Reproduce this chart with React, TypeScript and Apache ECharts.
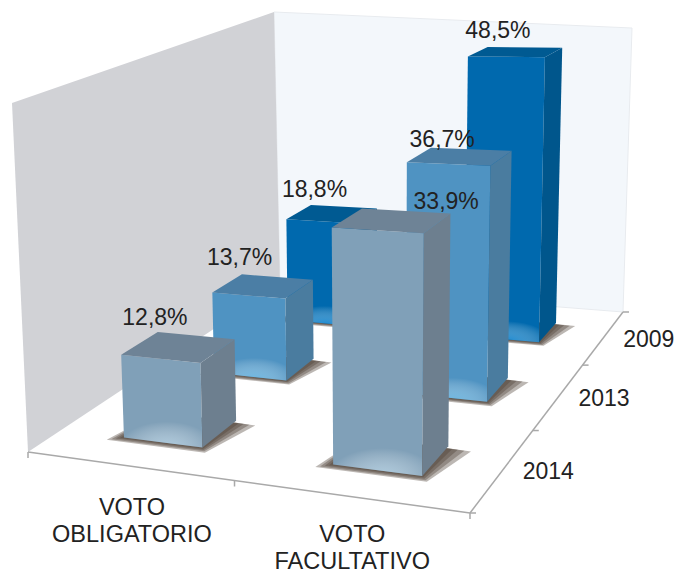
import React, { useEffect, useRef } from "react";
import * as echarts from "echarts";

// ---- data ----
const voteTypes = ["VOTO\nOBLIGATORIO", "VOTO\nFACULTATIVO"];
const years = ["2014", "2013", "2009"]; // front to back
const obligatorio = [12.8, 13.7, 18.8];
const facultativo = [33.9, 36.7, 48.5];

// ---- layout ----
const W = 674, H = 575;
const FONT = "Liberation Sans, Arial, sans-serif";
const FS = 23;
const floor = { fl: [28, 452], fr: [470, 513], br: [623, 312], bl: [280, 285] };
const wallTop = { fl: [12, 103], bl: [274, 12], br: [632, 28] };
const AXIS_MAX = 51.5;
const BAR_U = 0.195, BAR_V = 0.125, BAR_U_SHIFT = 0.008;
// Offsets of value labels from the middle of each bar's top: [column][row]
const labelShifts = [
  [[-23.5, -30], [-23.5, -29], [-17.5, -25]],
  [[54.5, -19], [-17.5, -18], [-17.5, -22]],
];
const typeLabelDrop = [55, 51];

const faceColors = [
  { front: "#80a0b8", glow: "rgba(190,220,238,0.7)", top: "#6e8396", side: "#6d7f8f" },
  { front: "#4f93c2", glow: "rgba(105,190,235,0.8)", top: "#4b7ea5", side: "#4a7c9f" },
  { front: "#0069ae", glow: "rgba(10,135,215,0.9)", top: "#005a92", side: "#00568c" },
];

// ---- perspective projection: floor homography plus a vertical vector ----
const [x0, y0] = floor.fl, [x1, y1] = floor.fr, [x2, y2] = floor.br, [x3, y3] = floor.bl;
const dx1 = x1 - x2, dx2 = x3 - x2, sx = x0 - x1 + x2 - x3;
const dy1 = y1 - y2, dy2 = y3 - y2, sy = y0 - y1 + y2 - y3;
const det = dx1 * dy2 - dx2 * dy1;
const g = (sx * dy2 - dx2 * sy) / det, h = (dx1 * sy - sx * dy1) / det;
const a = x1 - x0 + g * x1, b = x3 - x0 + h * x3;
const d = y1 - y0 + g * y1, e = y3 - y0 + h * y3;
// Vertical vector: C comes from the converging wall edges at front-left and back-right
const wBR = g + h + 1;
const C = ((wallTop.fl[0] - x0) - wBR * (wallTop.br[0] - x2)) / (wallTop.br[0] - wallTop.fl[0]);
const A = wallTop.fl[0] * C + (wallTop.fl[0] - x0);
const B = wallTop.fl[1] * C + (wallTop.fl[1] - y0);

function project(u: number, v: number, t = 0): number[] {
  const w = g * u + h * v + 1 + C * t;
  return [(a * u + b * v + x0 + A * t) / w, (d * u + e * v + y0 + B * t) / w];
}

function fractions(params: any, api: any) {
  const cs = params.coordSys;
  const base = api.coord([api.value(0), 0]);
  const topPt = api.coord([api.value(0), api.value(1)]);
  return {
    u: (base[0] - cs.x) / cs.width + BAR_U_SHIFT,
    t: (base[1] - topPt[1]) / cs.height,
    v: (api.value(2) + 0.5) / years.length,
    row: api.value(2),
  };
}

function renderBar(params: any, api: any) {
  const { u, t, v, row } = fractions(params, api);
  const c = faceColors[row];
  const u0 = u - BAR_U / 2, u1 = u + BAR_U / 2, v0 = v - BAR_V / 2, v1 = v + BAR_V / 2;
  const poly = (points: number[][], style: any) => ({ type: "polygon", shape: { points }, style });
  const front = [project(u0, v0, t), project(u1, v0, t), project(u1, v0), project(u0, v0)];
  const side = [project(u1, v0, t), project(u1, v1, t), project(u1, v1), project(u1, v0)];
  const top = [project(u0, v0, t), project(u1, v0, t), project(u1, v1, t), project(u0, v1, t)];
  const tGlow = Math.min(t, 0.1);
  const glow = [project(u0, v0, tGlow), project(u1, v0, tGlow), project(u1, v0), project(u0, v0)];
  const shadows = [1.5, 1.1, 0.7, 0.35].map((k) =>
    poly(
      [
        project(u0 - 0.02 * k, v0 - 0.012 * k),
        project(u1 + 0.012 * k, v0 - 0.012 * k),
        project(u1 + 0.036 * k, v1 - 0.01),
        project(u0, v1),
      ],
      { fill: "rgba(80,66,56,0.38)" }
    )
  );
  return {
    type: "group",
    children: [
      ...shadows,
      poly(front, { fill: c.front }),
      poly(glow, {
        fill: { type: "radial", x: 0.55, y: 1, r: 0.6, colorStops: [{ offset: 0, color: c.glow }, { offset: 1, color: "rgba(255,255,255,0)" }] },
      }),
      poly(side, { fill: c.side }),
      poly(top, { fill: c.top }),
    ],
  };
}

function renderLabel(params: any, api: any) {
  const { u, t, v, row } = fractions(params, api);
  const p = project(u, v, t);
  const s = labelShifts[api.value(0)][row];
  return {
    type: "text",
    style: {
      x: p[0] + s[0], y: p[1] + s[1],
      text: api.value(1).toFixed(1).replace(".", ",") + "%",
      fill: "#222",
      fontFamily: FONT, fontSize: FS, align: "center", verticalAlign: "middle",
    },
  };
}

function renderFrame() {
  const poly = (points: number[][], style: any) => ({ type: "polygon", shape: { points }, style });
  const line = (p: number[], q: number[]) => ({
    type: "line",
    shape: { x1: p[0], y1: p[1], x2: q[0], y2: q[1] },
    style: { stroke: "#a9a9a9", lineWidth: 1.5 },
  });
  const fl = project(0, 0), fr = project(1, 0), br = project(1, 1);
  const children: any[] = [
    poly([wallTop.bl, wallTop.br, floor.br, floor.bl], { fill: "#f3f7fb", stroke: "#e8ebef", lineWidth: 1 }),
    poly([wallTop.fl, wallTop.bl, floor.bl, floor.fl], { fill: "#d1d2d6" }),
    line(fl, fr),
    line(fr, br),
  ];
  [0, 0.5, 1].forEach((u) => {
    const p = project(u, 0);
    children.push(line(p, [p[0], p[1] + 6]));
  });
  [0, 1 / 3, 2 / 3, 1].forEach((v) => {
    const p = project(1, v);
    children.push(line(p, [p[0] + 6, p[1]]));
  });
  voteTypes.forEach((name, i) => {
    const p = project((i + 0.5) / voteTypes.length, 0);
    children.push({
      type: "text",
      style: {
        x: p[0] + 4, y: p[1] + typeLabelDrop[i], text: name, fill: "#222",
        fontFamily: FONT, fontSize: FS + 0.5, lineHeight: 27, align: "center", verticalAlign: "middle",
      },
    });
  });
  years.forEach((year, i) => {
    const p = project(1, (i + 0.5) / years.length);
    children.push({
      type: "text",
      style: {
        x: p[0] + 45, y: p[1] + 2, text: year, fill: "#222",
        fontFamily: FONT, fontSize: FS, align: "center", verticalAlign: "middle",
      },
    });
  });
  return { type: "group", children };
}

export default function App() {
  const ref = useRef<HTMLDivElement>(null);
  useEffect(() => {
    const chart = echarts.init(ref.current!, null, { renderer: "svg" });
    const rows: number[][] = [];
    for (let row = years.length - 1; row >= 0; row--) {
      rows.push([0, obligatorio[row], row]);
      rows.push([1, facultativo[row], row]);
    }
    chart.setOption({
      animation: false,
      backgroundColor: "#fff",
      grid: { left: 0, right: 0, top: 0, bottom: 0, show: false },
      xAxis: { type: "category", data: voteTypes, show: false },
      yAxis: { type: "value", min: 0, max: AXIS_MAX, show: false },
      series: [
        { type: "custom", silent: true, renderItem: renderFrame, data: [[0, 0, 0]], encode: { x: 0, y: 1 }, z: 1 },
        { type: "custom", silent: true, renderItem: renderBar, data: rows, encode: { x: 0, y: 1 }, z: 2 },
        { type: "custom", silent: true, renderItem: renderLabel, data: rows, encode: { x: 0, y: 1 }, z: 3 },
      ],
    });
    return () => chart.dispose();
  }, []);
  return <div ref={ref} style={{ position: "absolute", left: 0, top: 0, width: W, height: H }} />;
}
